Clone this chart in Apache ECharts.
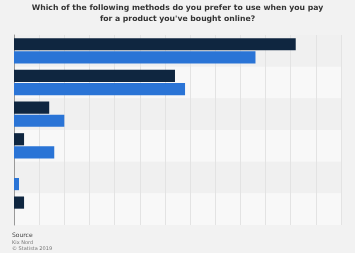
<!DOCTYPE html>
<html><head><meta charset="utf-8">
<script src="https://cdn.jsdelivr.net/npm/echarts@6/dist/echarts.min.js"></script>
<style>html,body{margin:0;padding:0;background:#f2f2f2}#c{width:355px;height:253px}</style>
</head><body><div id="c"></div>
<script>
var categories = ['Method 1','Method 2','Method 3','Method 4','Method 5','Method 6'];
var seriesA = [56, 32, 7, 2, 0, 2];
var seriesB = [48, 34, 10, 8, 1, 0];
var titleText = "Which of the following methods do you prefer to use when you pay\nfor a product you've bought online?";
var chart = echarts.init(document.getElementById('c'));
chart.setOption({
  backgroundColor: '#f2f2f2',
  animation: false,
  title: {
    text: titleText, left: 'center', top: 3, padding: 0,
    textStyle: {fontFamily: 'DejaVu Sans', fontWeight: 'bold', fontSize: 7.7, lineHeight: 10.5, color: '#333'}
  },
  graphic: [{
    type: 'text', left: 12, top: 232,
    style: {text: 'Source', fontFamily: 'DejaVu Sans', fontSize: 6, fill: '#444'}
  },{
    type: 'text', left: 12, top: 239,
    style: {text: 'Kix Nord\n© Statista 2019', fontFamily: 'DejaVu Sans', fontSize: 5, lineHeight: 6.5, fill: '#777'}
  }],
  grid: {left: 14, right: 14, top: 35, bottom: 28},
  xAxis: {
    type: 'value', min: 0, max: 65, interval: 5,
    axisLabel: {show: false}, axisLine: {show: false}, axisTick: {show: false},
    splitLine: {show: true, lineStyle: {color: '#e3e3e3', width: 1}}
  },
  yAxis: {
    type: 'category', data: categories, inverse: true,
    axisLabel: {show: false}, axisTick: {show: false},
    axisLine: {show: true, lineStyle: {color: '#999', width: 1}},
    splitArea: {show: true, areaStyle: {color: ['#f0f0f0', '#f8f8f8']}}
  },
  series: [
    {name: 'Series A', type: 'bar', data: seriesA, barGap: '8%', barCategoryGap: '20%', itemStyle: {color: '#0f2640'}},
    {name: 'Series B', type: 'bar', data: seriesB, itemStyle: {color: '#2a74d6'}}
  ]
});
</script></body></html>
